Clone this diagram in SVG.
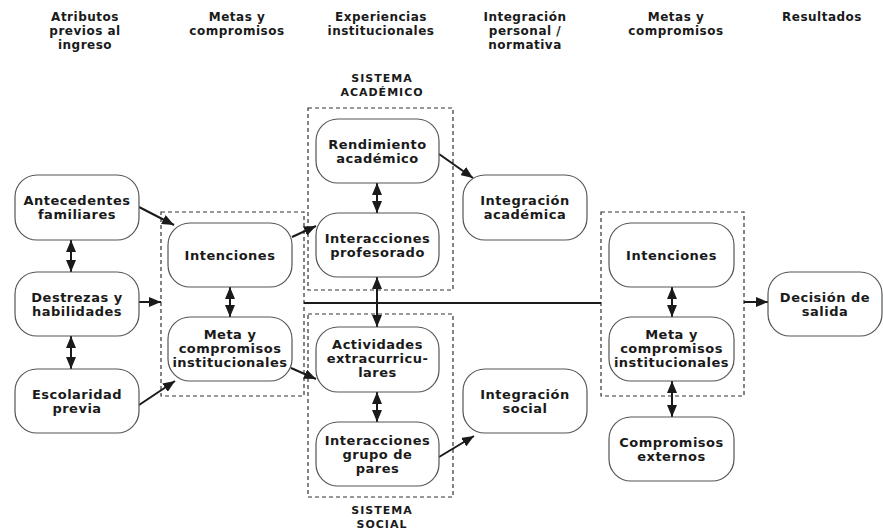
<svg xmlns="http://www.w3.org/2000/svg" width="883" height="531" viewBox="0 0 883 531">
<defs>
<marker id="ah" markerUnits="userSpaceOnUse" markerWidth="12" markerHeight="10" refX="12" refY="5" orient="auto-start-reverse">
<path d="M0,0 L12,5 L0,10 z" fill="#1a1a1a"/>
</marker>
</defs>
<style>
.bx{fill:#fff;stroke:#555;stroke-width:1.2}
.ds{fill:none;stroke:#333;stroke-width:1.2;stroke-dasharray:4 3}
.t{font-family:"DejaVu Sans",sans-serif;font-weight:bold;font-size:13px;letter-spacing:0.5px;fill:#1a1a1a;text-anchor:middle}
.h{font-family:"DejaVu Sans",sans-serif;font-weight:bold;font-size:12px;letter-spacing:0.5px;fill:#1a1a1a;text-anchor:middle}
.s{font-family:"DejaVu Sans",sans-serif;font-weight:bold;font-size:11px;fill:#1a1a1a;text-anchor:middle;letter-spacing:1px}
.c{stroke:#1a1a1a;stroke-width:2;fill:none}
</style>
<rect width="883" height="531" fill="#fff"/>

<g id="headers">
<text class="h" x="85" y="21">Atributos</text>
<text class="h" x="85" y="35">previos al</text>
<text class="h" x="85" y="49">ingreso</text>
<text class="h" x="237" y="21">Metas y</text>
<text class="h" x="237" y="35">compromisos</text>
<text class="h" x="381" y="21">Experiencias</text>
<text class="h" x="381" y="35">institucionales</text>
<text class="h" x="525" y="21">Integración</text>
<text class="h" x="525" y="35">personal /</text>
<text class="h" x="525" y="49">normativa</text>
<text class="h" x="676" y="21">Metas y</text>
<text class="h" x="676" y="35">compromisos</text>
<text class="h" x="822" y="21">Resultados</text>
</g>

<g id="groups">
<rect class="ds" x="161" y="212" width="143" height="184"/>
<rect class="ds" x="308" y="108" width="145" height="182"/>
<rect class="ds" x="308" y="314" width="145" height="183"/>
<rect class="ds" x="601" y="212" width="143" height="184"/>
<text class="s" x="382" y="82">SISTEMA</text>
<text class="s" x="382" y="96">ACADÉMICO</text>
<text class="s" x="382" y="514">SISTEMA</text>
<text class="s" x="382" y="528">SOCIAL</text>
</g>

<g id="connectors">
<line class="c" x1="304" y1="303" x2="601" y2="303" stroke-width="2.4"/>
<line class="c" x1="139" y1="207" x2="174" y2="225" marker-end="url(#ah)"/>
<line class="c" x1="139" y1="302" x2="161" y2="302" marker-end="url(#ah)"/>
<line class="c" x1="139" y1="405" x2="175" y2="381" marker-end="url(#ah)"/>
<line class="c" x1="292" y1="237" x2="316" y2="226" marker-end="url(#ah)"/>
<line class="c" x1="291" y1="368" x2="316" y2="379" marker-end="url(#ah)"/>
<line class="c" x1="439" y1="154" x2="473" y2="178" marker-end="url(#ah)"/>
<line class="c" x1="439" y1="457" x2="474" y2="436" marker-end="url(#ah)"/>
<line class="c" x1="744" y1="302" x2="768" y2="302" marker-end="url(#ah)"/>
<line class="c" x1="71" y1="240" x2="71" y2="272" marker-start="url(#ah)" marker-end="url(#ah)"/>
<line class="c" x1="71" y1="336" x2="71" y2="369" marker-start="url(#ah)" marker-end="url(#ah)"/>
<line class="c" x1="230" y1="287" x2="230" y2="317" marker-start="url(#ah)" marker-end="url(#ah)"/>
<line class="c" x1="377" y1="183" x2="377" y2="213" marker-start="url(#ah)" marker-end="url(#ah)"/>
<line class="c" x1="377" y1="277" x2="377" y2="327" marker-start="url(#ah)" marker-end="url(#ah)"/>
<line class="c" x1="377" y1="392" x2="377" y2="422" marker-start="url(#ah)" marker-end="url(#ah)"/>
<line class="c" x1="672" y1="287" x2="672" y2="317" marker-start="url(#ah)" marker-end="url(#ah)"/>
<line class="c" x1="672" y1="381" x2="672" y2="417" marker-start="url(#ah)" marker-end="url(#ah)"/>
</g>

<g id="antecedentes">
<rect class="bx" x="15" y="175" width="124" height="65" rx="22"/>
<text class="t" x="77" y="205">Antecedentes</text>
<text class="t" x="77" y="219">familiares</text>
</g>
<g id="destrezas">
<rect class="bx" x="15" y="272" width="124" height="64" rx="22"/>
<text class="t" x="77" y="301.5">Destrezas y</text>
<text class="t" x="77" y="315.5">habilidades</text>
</g>
<g id="escolaridad">
<rect class="bx" x="15" y="369" width="124" height="64" rx="22"/>
<text class="t" x="77" y="398.5">Escolaridad</text>
<text class="t" x="77" y="412.5">previa</text>
</g>
<g id="intenciones1">
<rect class="bx" x="168" y="223" width="124" height="64" rx="22"/>
<text class="t" x="230" y="259.5">Intenciones</text>
</g>
<g id="meta1">
<rect class="bx" x="168" y="317" width="124" height="64" rx="22"/>
<text class="t" x="230" y="339">Meta y</text>
<text class="t" x="230" y="353">compromisos</text>
<text class="t" x="230" y="367">institucionales</text>
</g>
<g id="rendimiento">
<rect class="bx" x="316" y="119" width="123" height="64" rx="22"/>
<text class="t" x="377.5" y="148.5">Rendimiento</text>
<text class="t" x="377.5" y="162.5">académico</text>
</g>
<g id="profesorado">
<rect class="bx" x="316" y="213" width="123" height="64" rx="22"/>
<text class="t" x="377.5" y="242.5">Interacciones</text>
<text class="t" x="377.5" y="256.5">profesorado</text>
</g>
<g id="actividades">
<rect class="bx" x="316" y="327" width="123" height="65" rx="22"/>
<text class="t" x="377.5" y="349">Actividades</text>
<text class="t" x="377.5" y="363">extracurricu-</text>
<text class="t" x="377.5" y="377">lares</text>
</g>
<g id="pares">
<rect class="bx" x="316" y="422" width="123" height="64" rx="22"/>
<text class="t" x="377.5" y="444.5">Interacciones</text>
<text class="t" x="377.5" y="458.5">grupo de</text>
<text class="t" x="377.5" y="472.5">pares</text>
</g>
<g id="intAcademica">
<rect class="bx" x="463" y="175" width="124" height="65" rx="22"/>
<text class="t" x="525" y="205">Integración</text>
<text class="t" x="525" y="219">académica</text>
</g>
<g id="intSocial">
<rect class="bx" x="463" y="369" width="124" height="64" rx="22"/>
<text class="t" x="525" y="398.5">Integración</text>
<text class="t" x="525" y="412.5">social</text>
</g>
<g id="intenciones2">
<rect class="bx" x="609" y="223" width="125" height="64" rx="22"/>
<text class="t" x="671.5" y="259.5">Intenciones</text>
</g>
<g id="meta2">
<rect class="bx" x="609" y="317" width="125" height="64" rx="22"/>
<text class="t" x="671.5" y="339">Meta y</text>
<text class="t" x="671.5" y="353">compromisos</text>
<text class="t" x="671.5" y="367">institucionales</text>
</g>
<g id="externos">
<rect class="bx" x="609" y="417" width="125" height="64" rx="22"/>
<text class="t" x="671.5" y="446.5">Compromisos</text>
<text class="t" x="671.5" y="460.5">externos</text>
</g>
<g id="decision">
<rect class="bx" x="768" y="272" width="114" height="64" rx="22"/>
<text class="t" x="825" y="301.5">Decisión de</text>
<text class="t" x="825" y="315.5">salida</text>
</g>
</svg>
